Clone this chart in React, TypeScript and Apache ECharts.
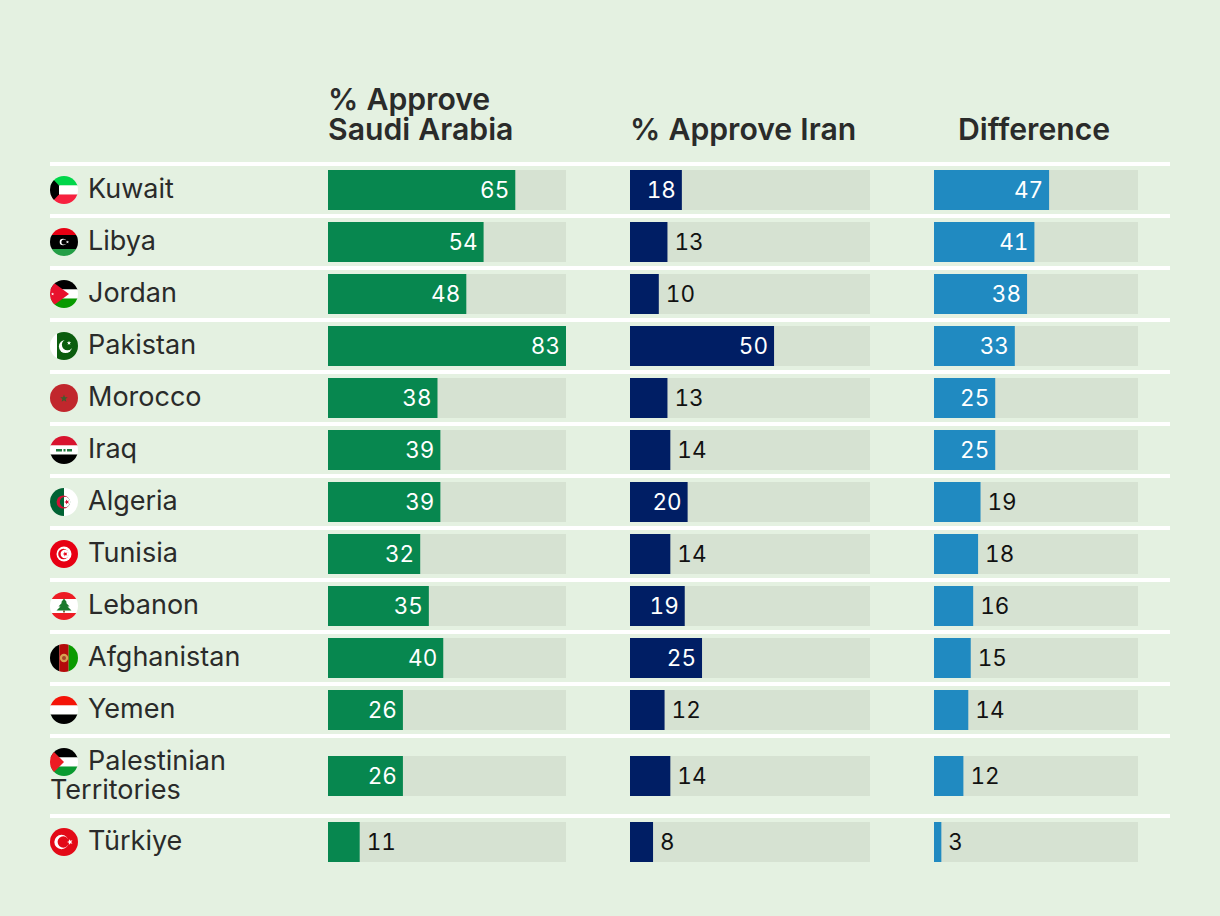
import React, { useEffect, useRef } from "react";
import * as echarts from "echarts";

const countries = ["Kuwait", "Libya", "Jordan", "Pakistan", "Morocco", "Iraq", "Algeria", "Tunisia", "Lebanon", "Afghanistan", "Yemen", "Palestinian Territories", "Türkiye"];
const approveSaudi = [65, 54, 48, 83, 38, 39, 39, 32, 35, 40, 26, 26, 11];
const approveIran = [18, 13, 10, 50, 13, 14, 20, 14, 19, 25, 12, 14, 8];
const difference = [47, 41, 38, 33, 25, 25, 19, 18, 16, 15, 14, 12, 3];
const flagKeys = ["kw", "ly", "jo", "pk", "ma", "iq", "dz", "tn", "lb", "af", "ye", "ps", "tr"];

const BG = "#E4F1E1";
const TRACK = "#D6E2D2";
const INK = "#2A2B2A";

const star = (cx: number, cy: number, r: number, fill: string, rot = -90) => {
  const pts: string[] = [];
  for (let i = 0; i < 10; i++) {
    const rad = i % 2 ? r * 0.42 : r;
    const a = ((rot + i * 36) * Math.PI) / 180;
    pts.push(`${(cx + rad * Math.cos(a)).toFixed(2)},${(cy + rad * Math.sin(a)).toFixed(2)}`);
  }
  return `<polygon points="${pts.join(" ")}" fill="${fill}"/>`;
};
const r = (x: number, y: number, w: number, h: number, fill: string) => `<rect x="${x}" y="${y}" width="${w}" height="${h}" fill="${fill}"/>`;
const c = (x: number, y: number, rad: number, fill: string) => `<circle cx="${x}" cy="${y}" r="${rad}" fill="${fill}"/>`;

const flagArt: Record<string, string> = {
  kw: r(0, 0, 28, 9.5, "#00D64A") + r(0, 9.5, 28, 9, "#FFFFFF") + r(0, 18.5, 28, 9.5, "#F7213F") + `<polygon points="0,0 9,9.5 9,18.5 0,28" fill="#000"/>`,
  ly: r(0, 0, 28, 7, "#E70013") + r(0, 7, 28, 14, "#000") + r(0, 21, 28, 7, "#239E46") + c(13, 14, 3.3, "#fff") + c(14, 14, 2.6, "#000") + star(17.5, 14, 1.6, "#fff"),
  jo: r(0, 0, 28, 9.5, "#000") + r(0, 9.5, 28, 9, "#fff") + r(0, 18.5, 28, 9.5, "#079A00") + `<polygon points="0,0 19,14 0,28" fill="#E8112D"/>` + star(2.6, 14, 1.6, "#fff"),
  pk: r(0, 0, 7, 28, "#fff") + r(7, 0, 21, 28, "#0B5D0E") + c(15.5, 14.5, 6.6, "#fff") + c(17.5, 12.7, 5.6, "#0B5D0E") + star(19, 11, 2.3, "#fff"),
  ma: r(0, 0, 28, 28, "#C1272D") + star(14, 14.5, 4, "#3F5B2E"),
  iq: r(0, 0, 28, 9.5, "#D8142E") + r(0, 9.5, 28, 9, "#fff") + r(0, 18.5, 28, 9.5, "#000") + r(6, 13, 6, 2.5, "#1F7A3F") + r(13.5, 13, 2, 2.5, "#1F7A3F") + r(17, 13, 5, 2.5, "#1F7A3F"),
  dz: r(0, 0, 14, 28, "#006233") + r(14, 0, 14, 28, "#fff") + c(13.2, 14, 6.6, "#D21034") + c(15, 14, 5.2, "#006233") + `<path d="M14 8.9A5.2 5.2 0 1 1 14 19.1Z" fill="#fff"/>` + star(16.9, 14, 2.7, "#D21034", 180),
  tn: r(0, 0, 28, 28, "#E70013") + c(14, 14, 7.5, "#fff") + c(13.4, 14, 5.2, "#E70013") + c(14.8, 14, 4.2, "#fff") + star(15.3, 14, 2.6, "#E70013", 180),
  lb: r(0, 0, 28, 7, "#ED1C24") + r(0, 7, 28, 14, "#fff") + r(0, 21, 28, 7, "#ED1C24") + `<polygon points="14,6.5 17,10.5 15.8,10.5 19.5,14.5 17.5,14.5 21.5,18.5 6.5,18.5 10.5,14.5 8.5,14.5 12.2,10.5 11,10.5" fill="#1B7A2C"/>` + r(13.2, 18.5, 1.6, 2, "#5A4A1B"),
  af: r(0, 0, 9.3, 28, "#000") + r(9.3, 0, 9.4, 28, "#B40A0A") + r(18.7, 0, 9.3, 28, "#0A9A00") + c(14, 14, 4.2, "#D8A050") + c(14, 14, 2, "#A6432A"),
  ye: r(0, 0, 28, 9.5, "#F41408") + r(0, 9.5, 28, 9, "#fff") + r(0, 18.5, 28, 9.5, "#000"),
  ps: r(0, 0, 28, 9.5, "#000") + r(0, 9.5, 28, 9, "#fff") + r(0, 18.5, 28, 9.5, "#0A9A30") + `<polygon points="0,0 14,14 0,28" fill="#EC1C24"/>`,
  tr: r(0, 0, 28, 28, "#E30A17") + c(11.5, 14, 7.2, "#fff") + c(13.3, 14, 5.7, "#E30A17") + star(20, 14, 3, "#fff", 180),
};

const flagUri = (key: string) =>
  "data:image/svg+xml;charset=utf-8," +
  encodeURIComponent(
    `<svg xmlns="http://www.w3.org/2000/svg" width="56" height="56" viewBox="0 0 28 28"><clipPath id="k"><circle cx="14" cy="14" r="14"/></clipPath><g clip-path="url(#k)">${flagArt[key]}</g></svg>`
  );

const FONT = "Inter";
const MAIN_ROWS = 11;
const columns = [
  { values: approveSaudi, left: 328, width: 238, max: 82.6, color: "#07874F" },
  { values: approveIran, left: 630, width: 240, max: 83.3, color: "#001E64" },
  { values: difference, left: 934, width: 204, max: 83.3, color: "#208AC1" },
];
const bands = [
  { top: 164, height: 572, from: 0, to: MAIN_ROWS },
  { top: 743, height: 132, from: MAIN_ROWS, to: countries.length },
];

const rich: Record<string, any> = {
  gap: { width: 10, height: 1 },
  name: { fontFamily: FONT, fontSize: 27, color: INK, lineHeight: 28, height: 28, padding: [0, 0, 4, 0] },
  name2: { fontFamily: FONT, fontSize: 27, color: INK, lineHeight: 28, height: 29, padding: [0, 0, 2, 0] },
};
flagKeys.forEach((k) => {
  rich[k] = { width: 28, height: 28, backgroundColor: { image: flagUri(k) } };
});

const countryLabel = (name: string) => {
  const k = flagKeys[countries.indexOf(name)];
  const parts = name.split(" ");
  const rest = parts.slice(1).map((p) => `\n{name2|${p}}`).join("");
  return `{${k}|}{gap|}{name|${parts[0]}}${rest}`;
};

const buildOption = () => {
  const grid: any[] = [];
  const xAxis: any[] = [];
  const yAxis: any[] = [];
  const series: any[] = [];
  columns.forEach((col, ci) => {
    bands.forEach((band) => {
      const idx = grid.length;
      grid.push({ left: col.left, width: col.width, top: band.top, height: band.height });
      xAxis.push({ type: "value", gridIndex: idx, min: 0, max: col.max, show: false });
      yAxis.push({
        type: "category",
        gridIndex: idx,
        inverse: true,
        data: countries.slice(band.from, band.to),
        axisLine: { show: false },
        axisTick: { show: false },
        splitLine: { show: false },
        axisLabel:
          ci === 0
            ? { show: true, interval: 0, align: "left", margin: 278, formatter: countryLabel, rich, hideOverlap: false }
            : { show: false },
      });
      series.push({
        type: "bar",
        xAxisIndex: idx,
        yAxisIndex: idx,
        barWidth: 40,
        showBackground: true,
        backgroundStyle: { color: TRACK },
        itemStyle: { color: col.color },
        data: col.values.slice(band.from, band.to).map((v) => {
          const inside = (v / col.max) * col.width >= 50;
          return {
            value: v,
            label: {
              show: true,
              position: inside ? "insideRight" : "right",
              distance: inside ? 6 : 7,
              offset: [0, -1],
              color: inside ? "#FFFFFF" : "#111111",
              fontFamily: FONT,
              fontSize: 22.5,
            },
          };
        }),
      });
    });
  });
  const ruleYs = [162, 214, 266, 318, 370, 422, 474, 526, 578, 630, 682, 734, 814];
  const headerStyle = { fontFamily: FONT, fontSize: 30.2, fontWeight: 600, color: INK, lineHeight: 30 };
  return {
    animation: false,
    backgroundColor: BG,
    grid,
    xAxis,
    yAxis,
    series,
    title: [
      { text: "% Approve\nSaudi Arabia", left: 328, top: 84.4, padding: 0, textStyle: headerStyle },
      { text: "% Approve Iran", left: 630, top: 114.4, padding: 0, textStyle: headerStyle },
      { text: "Difference", left: 958, top: 114.4, padding: 0, textStyle: headerStyle },
    ],
    graphic: ruleYs.map((y) => ({
      type: "rect",
      silent: true,
      z: -1,
      shape: { x: 50, y, width: 1120, height: 4 },
      style: { fill: "#FFFFFF" },
    })),
  };
};

export default function App() {
  const ref = useRef<HTMLDivElement>(null);
  useEffect(() => {
    document.body.style.margin = "0";
    document.body.style.background = BG;
    const style = document.createElement("style");
    style.textContent = `svg text { font-variant-numeric: tabular-nums; }`;
    document.head.appendChild(style);
    const chart = echarts.init(ref.current!, undefined, { renderer: "svg" });
    chart.setOption(buildOption() as any);
    return () => {
      chart.dispose();
      style.remove();
    };
  }, []);
  return <div ref={ref} style={{ width: 1220, height: 916 }} />;
}
